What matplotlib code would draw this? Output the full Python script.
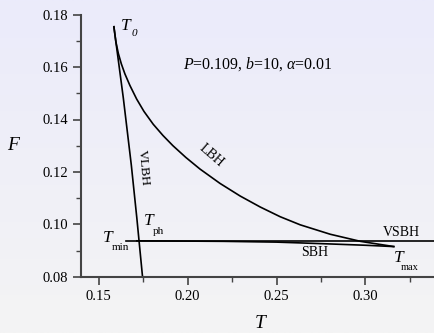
import numpy as np
import matplotlib
matplotlib.use('Agg')
import matplotlib.pyplot as plt

plt.rcParams['font.family'] = ['Liberation Serif', 'DejaVu Serif']
plt.rcParams['mathtext.fontset'] = 'custom'
plt.rcParams['mathtext.rm'] = 'Liberation Serif'
plt.rcParams['mathtext.it'] = 'Liberation Serif:italic'

# values
vlbh_T = [0.1585, 0.1638, 0.1683, 0.1714, 0.1746]
vlbh_F = [0.1754, 0.1482, 0.1226, 0.1024, 0.0800]

lbh_T = [0.1585, 0.1596, 0.1610, 0.1627, 0.1647, 0.1675, 0.1713, 0.1754, 0.1806,
         0.1861, 0.1917, 0.1990, 0.2069, 0.2182, 0.2295, 0.2408, 0.2520, 0.2633,
         0.2802, 0.2971, 0.3159]
lbh_F = [0.1754, 0.1697, 0.1652, 0.1612, 0.1574, 0.1530, 0.1478, 0.1431, 0.1382,
         0.1339, 0.1300, 0.1255, 0.1211, 0.1156, 0.1108, 0.1066, 0.1029, 0.0998,
         0.0962, 0.0935, 0.0915]

sbh_T = [0.1714, 0.22, 0.25, 0.2633, 0.28, 0.30, 0.3159]
sbh_F = [0.0937, 0.0935, 0.0932, 0.0929, 0.0925, 0.0920, 0.0915]

vsbh_T = [0.1652, 0.34]
vsbh_F = [0.0937, 0.0937]

W, H = 434, 333
fig = plt.figure(figsize=(W / 100, H / 100), dpi=100)

# gradient background
bg = fig.add_axes([0, 0, 1, 1], zorder=-10)
grad = np.linspace(0, 1, 256).reshape(-1, 1)
top = np.array([235, 235, 251]) / 255.0
bot = np.array([244, 244, 244]) / 255.0
img = top + (bot - top) * grad[:, :, None]
bg.imshow(img, aspect='auto', extent=[0, 1, 0, 1])
bg.axis('off')

ax = fig.add_axes([81 / W, 1 - 276.7 / H, 1 - 81 / W + 0.006, 262 / H])
ax.patch.set_alpha(0)

lc = 'black'
ax.plot(vlbh_T, vlbh_F, color=lc, lw=1.2)
ax.plot(lbh_T, lbh_F, color=lc, lw=1.2)
ax.plot(sbh_T, sbh_F, color=lc, lw=1.2)
ax.plot(vsbh_T, vsbh_F, color=lc, lw=1.2)

ax.set_xlim(0.14, 0.34)
ax.set_ylim(0.08, 0.18)
ax.set_xticks([0.15, 0.20, 0.25, 0.30])
ax.set_xticklabels(['0.15', '0.20', '0.25', '0.30'])
ax.set_yticks([0.08, 0.10, 0.12, 0.14, 0.16, 0.18])
ax.set_yticklabels(['0.08', '0.10', '0.12', '0.14', '0.16', '0.18'])
ax.set_xticks(np.arange(0.175, 0.34, 0.05), minor=True)
ax.set_yticks(np.arange(0.09, 0.18, 0.02), minor=True)
ax.tick_params(which='major', length=6, width=1.2, color='#444444', labelsize=10.5)
ax.tick_params(which='minor', length=3.5, width=1.0, color='#444444')
for s in ['top', 'right']:
    ax.spines[s].set_visible(False)
for s in ['left', 'bottom']:
    ax.spines[s].set_linewidth(1.5)
    ax.spines[s].set_color('#444444')


def ptext(x, y, s, **kw):
    # place text at pixel position of the reference picture
    fig.text(x / W, 1 - y / H, s, ha='center', va='center', **kw)


ptext(13, 145, 'F', fontsize=14, style='italic')
ptext(260, 324, 'T', fontsize=14, style='italic')

ptext(126, 26, 'T', fontsize=12.5, style='italic')
ptext(134, 34, '0', fontsize=8, style='italic')
fig.text(183 / W, 1 - 64 / H, r'$P$=0.109, $b$=10, $\alpha$=0.01', fontsize=11.4,
         ha='left', va='center')
ptext(211, 156, 'LBH', fontsize=10, rotation=-41)
ptext(143.5, 168, 'VLBH', fontsize=9.5, rotation=-85)
ptext(148.5, 221, 'T', fontsize=12.5, style='italic')
ptext(158, 231, 'ph', fontsize=8)
ptext(107.5, 237.5, 'T', fontsize=12.5, style='italic')
ptext(120, 247.5, 'min', fontsize=8)
ptext(401.7, 232, 'VSBH', fontsize=10)
ptext(315, 252, 'SBH', fontsize=10)
ptext(399, 257.5, 'T', fontsize=12.5, style='italic')
ptext(410, 267, 'max', fontsize=7.5)

fig.savefig('out.png', dpi=100)
